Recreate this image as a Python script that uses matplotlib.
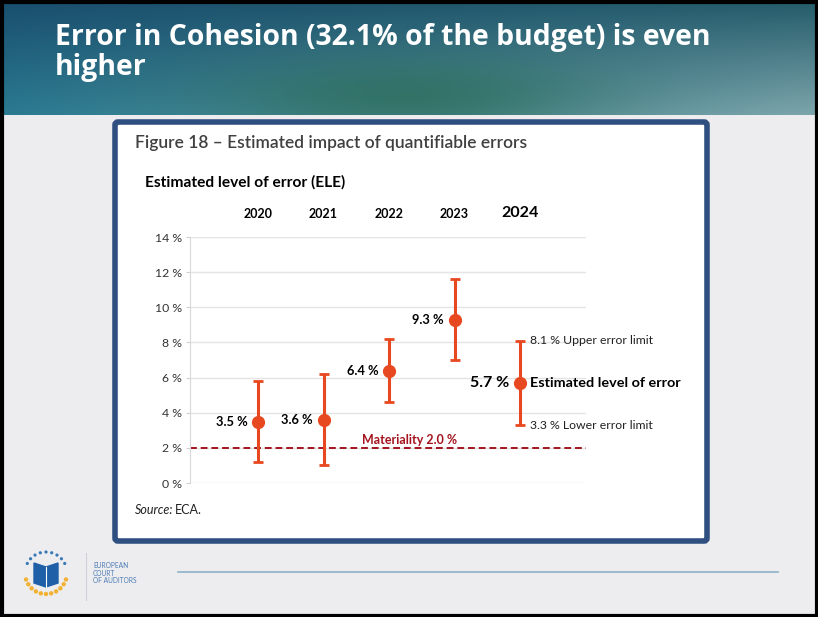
import numpy as np
import matplotlib
matplotlib.use("Agg")
from matplotlib import pyplot as plt
from matplotlib.patches import FancyBboxPatch, Rectangle, Circle, Polygon

# data
years = ["2020", "2021", "2022", "2023", "2024"]
ele = np.array([3.5, 3.6, 6.4, 9.3, 5.7])
lower = np.array([1.2, 1.0, 4.6, 7.0, 3.3])
upper = np.array([5.8, 6.2, 8.2, 11.6, 8.1])
materiality = 2.0
yticks = [0, 2, 4, 6, 8, 10, 12, 14]

W, H = 818, 617
orange = "#e8481f"
darkred = "#a3141e"
plt.rcParams["font.family"] = ["Lato", "DejaVu Sans"]

fig = plt.figure(figsize=(W / 100, H / 100), dpi=100)
bg = fig.add_axes([0, 0, 1, 1])
bg.set_xlim(0, W)
bg.set_ylim(H, 0)
bg.axis("off")

# slide background + frame
bg.add_patch(Rectangle((0, 0), W, H, color="#ededf0", zorder=0))

# header gradient
nx, ny = 200, 40
gx, gy = np.meshgrid(np.linspace(0, 1, nx), np.linspace(0, 1, ny))
tl = np.array([25, 78, 110]) / 255
tr = np.array([36, 92, 106]) / 255
bl = np.array([42, 122, 146]) / 255
br = np.array([125, 165, 172]) / 255
img = (tl * ((1 - gx) * (1 - gy))[..., None] + tr * (gx * (1 - gy))[..., None]
       + bl * ((1 - gx) * gy)[..., None] + br * (gx * gy)[..., None])
green = np.array([44, 110, 92]) / 255
wgt = np.exp(-((gx - 0.5) ** 2 / 0.06 + (gy - 0.85) ** 2 / 0.15))[..., None] * 0.8
img = img * (1 - wgt) + green * wgt
bg.imshow(img, extent=(0, W, 115, 0), aspect="auto", zorder=1, interpolation="bilinear")

bg.add_patch(Rectangle((1.5, 1.5), W - 3, H - 3, fill=False, ec="black", lw=3, zorder=10))

bg.text(55, 37, "Error in Cohesion (32.1% of the budget) is even", color="white",
        fontsize=20.4, fontweight="bold", family="Open Sans", va="center", zorder=5)
bg.text(55, 68, "higher", color="white",
        fontsize=20.4, fontweight="bold", family="Open Sans", va="center", zorder=5)

# chart box
bg.add_patch(FancyBboxPatch((115, 122), 592, 419, boxstyle="round,pad=0,rounding_size=3",
                            fc="white", ec="#2e4f80", lw=4, zorder=2))
bg.text(135, 143, "Figure 18 \u2013 Estimated impact of quantifiable errors", color="#404040",
        fontsize=12.5, fontweight="semibold", va="center", zorder=3)
bg.text(145, 182, "Estimated level of error (ELE)", color="black",
        fontsize=11.2, fontweight="bold", va="center", zorder=3)
bg.text(135, 510, "Source:", color="#222222", fontsize=9, style="italic", va="center", zorder=3)
bg.text(175, 510, "ECA.", color="#222222", fontsize=9, va="center", zorder=3)

# footer
bg.plot([178, 778], [572, 572], color="#8fb0c8", lw=1.2, zorder=3)
bg.plot([86, 86], [553, 600], color="#d0d0d8", lw=0.8, zorder=3)
bg.text(93, 573, "EUROPEAN\nCOURT\nOF AUDITORS", color="#4d7db5", fontsize=4.8,
        va="center", linespacing=1.1, zorder=3)
cx, cy, r = 46, 573, 21
for a in np.linspace(np.pi * 0.1, np.pi * 0.9, 11):
    bg.add_patch(Circle((cx - r * np.cos(a), cy + r * np.sin(a)), 1.5, color="#f2b233", zorder=3))
for a in np.linspace(np.pi * 1.15, np.pi * 1.85, 9):
    bg.add_patch(Circle((cx - r * np.cos(a), cy + r * np.sin(a)), 0.9, color="#3a78b8", zorder=3))
bg.add_patch(Polygon([[34, 563], [46, 567], [58, 563], [58, 583], [46, 587], [34, 583]],
                     closed=True, color="#1f5fa8", zorder=3))
bg.plot([46, 46], [567, 587], color="white", lw=0.8, zorder=4)

# chart axes
x0, x1, step = 190, 586, 65.5
xpos = np.arange(len(years))
ax = fig.add_axes([x0 / W, (H - 483) / H, (x1 - x0) / W, (483 - 237) / H])
ax.set_facecolor("none")
ax.set_xlim((x0 - 258) / step, (x1 - 258) / step)
ax.set_ylim(0, 14)
ax.set_yticks(yticks)
ax.set_yticklabels([f"{v} %" for v in yticks])
ax.grid(axis="y", color="#e4e4e4", lw=1)
ax.set_axisbelow(True)
for s in ["top", "right", "bottom"]:
    ax.spines[s].set_visible(False)
ax.spines["left"].set_color("#d8d8d8")
ax.tick_params(axis="y", colors="#d0d0d0", labelcolor="#333333", labelsize=8.8, length=3, pad=3)
ax.set_xticks(xpos)
ax.set_xticklabels(years)
ax.tick_params(axis="x", top=True, labeltop=True, bottom=False, labelbottom=False,
               length=0, pad=12, labelsize=9)
for i, lab in enumerate(ax.get_xticklabels()):
    lab.set_fontweight("bold")
    if i == len(years) - 1:
        lab.set_fontsize(11.5)

ax.axhline(materiality, color=darkred, ls=(0, (3.5, 2)), lw=1.4, zorder=2)
ax.annotate(f"Materiality {materiality:.1f} %", (2.32, materiality), xytext=(0, 1),
            textcoords="offset points", ha="center", va="bottom", color=darkred,
            fontsize=9, fontweight="bold")

ax.errorbar(xpos, ele, yerr=[ele - lower, upper - ele], fmt="o", color=orange, ms=8.5,
            elinewidth=2.2, capsize=3.5, capthick=2, zorder=3)
for i, v in enumerate(ele):
    big = i == len(ele) - 1
    ax.annotate(f"{v} %", (xpos[i], v), xytext=(-7.5, 0), textcoords="offset points",
                ha="right", va="center", fontweight="bold", fontsize=11.5 if big else 9.3)

last = len(ele) - 1
ax.annotate(f"{upper[last]} % Upper error limit", (xpos[last], upper[last]), xytext=(7, 0),
            textcoords="offset points", ha="left", va="center", fontsize=8.8, color="#222222")
ax.annotate("Estimated level of error", (xpos[last], ele[last]), xytext=(7, 0),
            textcoords="offset points", ha="left", va="center", fontsize=10.4, fontweight="bold")
ax.annotate(f"{lower[last]} % Lower error limit", (xpos[last], lower[last]), xytext=(7, 0),
            textcoords="offset points", ha="left", va="center", fontsize=8.8, color="#222222")

fig.savefig("out.png", dpi=100)
